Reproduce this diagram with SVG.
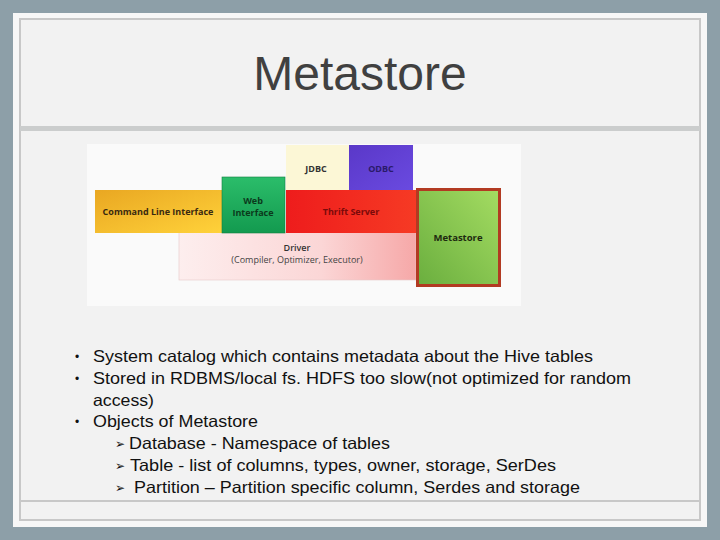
<svg xmlns="http://www.w3.org/2000/svg" width="720" height="540" viewBox="0 0 720 540">
<defs>
<linearGradient id="gCli" x1="0" y1="0" x2="1" y2="1"><stop offset="0" stop-color="#e9a722"/><stop offset="1" stop-color="#ffd23a"/></linearGradient>
<linearGradient id="gWeb" x1="0" y1="0" x2="0" y2="1"><stop offset="0" stop-color="#2bbd6a"/><stop offset="1" stop-color="#139a4f"/></linearGradient>
<linearGradient id="gThrift" x1="0" y1="0" x2="1" y2="0"><stop offset="0" stop-color="#ee1c1c"/><stop offset="1" stop-color="#f63a24"/></linearGradient>
<linearGradient id="gDrv" x1="0" y1="0" x2="1" y2="0"><stop offset="0" stop-color="#fdeeee"/><stop offset="0.6" stop-color="#fbd6d6"/><stop offset="1" stop-color="#f6a8a8"/></linearGradient>
<linearGradient id="gMeta" x1="0" y1="1" x2="1" y2="0"><stop offset="0" stop-color="#6aae3e"/><stop offset="1" stop-color="#a4dc62"/></linearGradient>
<linearGradient id="gOdbc" x1="0" y1="0" x2="1" y2="1"><stop offset="0" stop-color="#5a38c8"/><stop offset="1" stop-color="#6a4ae0"/></linearGradient>
</defs>
<style>
.blk{font-family:"Open Sans","Liberation Sans",sans-serif;font-weight:bold;font-size:9px;text-anchor:middle;fill:#3a2a10}
.body{font-family:"Liberation Sans",Arial,sans-serif;font-size:16.5px;fill:#111}
.bul{font-family:"Liberation Sans",Arial,sans-serif;font-size:12px;fill:#111}
.arr{font-family:"DejaVu Sans",sans-serif;font-size:12px;fill:#111}
</style>
<rect x="0" y="0" width="720" height="540" fill="#8d9fa8"/>
<rect x="13" y="13" width="694" height="514" fill="#f7f7f7"/>
<rect x="20" y="19" width="680" height="501" fill="#f2f2f2" stroke="#c8c8c8" stroke-width="2"/>
<rect x="20" y="126" width="680" height="5" fill="#cbcdcd"/>
<line x1="20" y1="501" x2="700" y2="501" stroke="#c8c8c8" stroke-width="2"/>
<text x="360" y="90" font-family="Liberation Sans,Arial,sans-serif" font-size="48" fill="#404040" text-anchor="middle">Metastore</text>

<g id="diagram">
<rect x="87" y="144" width="434" height="162" fill="#fafafa"/>
<g id="driver"><rect x="179" y="232" width="237" height="48" fill="url(#gDrv)" stroke="#e8c8c8" stroke-width="0.6"/>
<text class="blk" x="297" y="251" style="fill:#333;font-weight:600">Driver</text>
<text class="blk" x="297" y="263" style="fill:#444;font-weight:normal">(Compiler, Optimizer, Executor)</text></g>
<g id="cli"><rect x="95" y="190" width="127" height="43" fill="url(#gCli)"/>
<text class="blk" x="158" y="215">Command Line Interface</text></g>
<g id="web"><rect x="222" y="177" width="63" height="56" fill="url(#gWeb)" stroke="#118040" stroke-width="0.6"/>
<text class="blk" x="253" y="204" style="fill:#0b3a1c">Web</text>
<text class="blk" x="253" y="216" style="fill:#0b3a1c">Interface</text></g>
<g id="jdbc"><rect x="286" y="145" width="63" height="45" fill="#fcf7d6"/>
<text class="blk" x="316" y="172" style="fill:#333">JDBC</text></g>
<g id="odbc"><rect x="349" y="145" width="64" height="45" fill="url(#gOdbc)"/>
<text class="blk" x="381" y="172" style="fill:#2a1a6a">ODBC</text></g>
<g id="thrift"><rect x="286" y="190" width="130" height="43" fill="url(#gThrift)"/>
<text class="blk" x="351" y="215" style="fill:#7a0a0a">Thrift Server</text></g>
<g id="metastore"><rect x="417.5" y="189.5" width="82" height="96" fill="url(#gMeta)" stroke="#b23a22" stroke-width="3"/>
<text class="blk" x="458" y="241" style="font-size:9.5px;fill:#1e2a10">Metastore</text></g>
</g>

<g id="bullets">
<text class="bul" x="75" y="361">•</text>
<text class="body" x="93" y="362" textLength="500" lengthAdjust="spacingAndGlyphs">System catalog which contains metadata about the Hive tables</text>
<text class="bul" x="75" y="383">•</text>
<text class="body" x="93" y="384" textLength="538" lengthAdjust="spacingAndGlyphs">Stored in RDBMS/local fs. HDFS too slow(not optimized for random</text>
<text class="body" x="93" y="406" textLength="61" lengthAdjust="spacingAndGlyphs">access)</text>
<text class="bul" x="75" y="426">•</text>
<text class="body" x="93" y="427" textLength="165" lengthAdjust="spacingAndGlyphs">Objects of Metastore</text>
<text class="arr" x="115" y="448">➢</text>
<text class="body" x="129" y="449" textLength="261" lengthAdjust="spacingAndGlyphs">Database - Namespace of tables</text>
<text class="arr" x="115" y="470">➢</text>
<text class="body" x="130" y="471" textLength="426" lengthAdjust="spacingAndGlyphs">Table - list of columns, types, owner, storage, SerDes</text>
<text class="arr" x="115" y="492">➢</text>
<text class="body" x="134" y="493" textLength="446" lengthAdjust="spacingAndGlyphs">Partition – Partition specific column, Serdes and storage</text>
</g>
</svg>
